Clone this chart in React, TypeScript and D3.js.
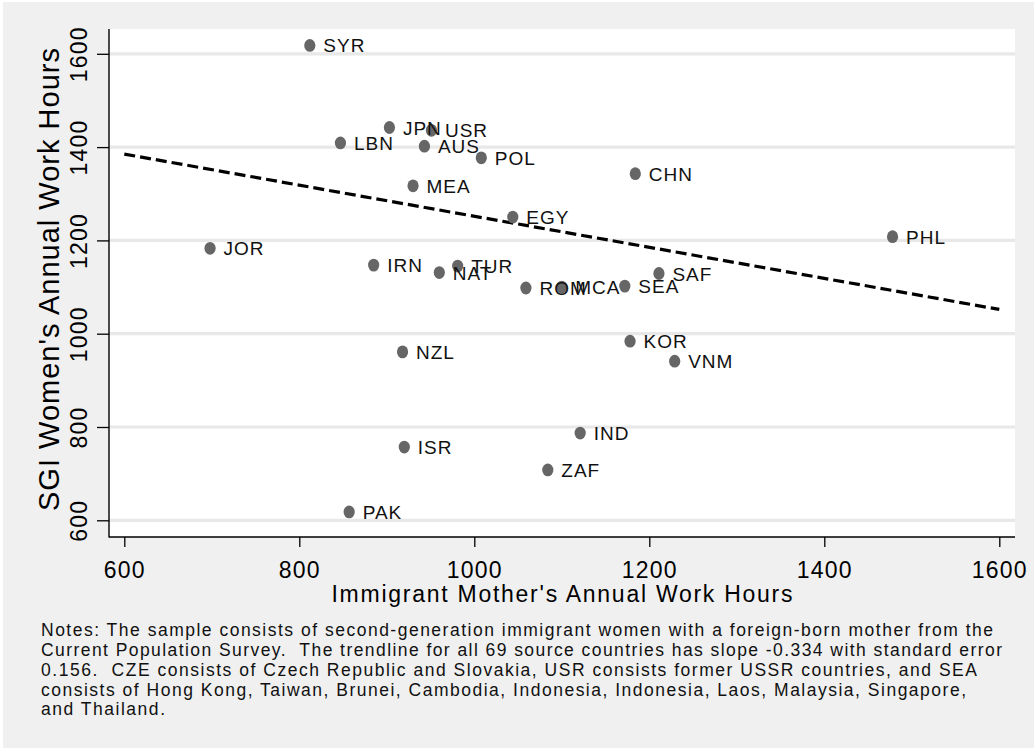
import React, { useEffect, useRef } from 'react';
import * as d3 from 'd3';

// source countries, mother's hours (x) and SGI women's hours (y)
const countries = ['SYR', 'JPN', 'USR', 'LBN', 'AUS', 'POL', 'MEA', 'CHN', 'EGY', 'PHL', 'JOR', 'IRN', 'NAT', 'TUR', 'SAF', 'ROM', 'MCA', 'SEA', 'KOR', 'VNM', 'NZL', 'IND', 'ISR', 'ZAF', 'PAK'];
const motherHours = [812, 903, 951, 847, 943, 1008, 930, 1184, 1044, 1478, 698, 885, 960, 981, 1211, 1059, 1100, 1172, 1178, 1229, 918, 1121, 920, 1084, 857];
const womenHours = [1618, 1442, 1436, 1409, 1402, 1377, 1317, 1343, 1250, 1208, 1183, 1147, 1131, 1145, 1129, 1098, 1100, 1102, 984, 941, 961, 787, 757, 708, 618];

// fitted line end points
const trendX = [600, 1600];
const trendY = [1385, 1052];

const xTicks = [600, 800, 1000, 1200, 1400, 1600];
const yTicks = [600, 800, 1000, 1200, 1400, 1600];

const xTitle = "Immigrant Mother's Annual Work Hours";
const yTitle = "SGI Women's Annual Work Hours";

const notesLines = [
  'Notes: The sample consists of second-generation immigrant women with a foreign-born mother from the',
  'Current Population Survey.  The trendline for all 69 source countries has slope -0.334 with standard error',
  '0.156.  CZE consists of Czech Republic and Slovakia, USR consists former USSR countries, and SEA',
  'consists of Hong Kong, Taiwan, Brunei, Cambodia, Indonesia, Indonesia, Laos, Malaysia, Singapore,',
  'and Thailand.',
];
const notesWidths = [952, 961, 936, 925, 124];

const FONT = '"Liberation Sans", Arial, Helvetica, sans-serif';

const App = () => {
  const svgRef = useRef<SVGSVGElement>(null);

  useEffect(() => {
    const width = 1034;
    const height = 748;
    const plot = { left: 109, right: 1015, top: 29, bottom: 537 };

    const svg = d3.select(svgRef.current).attr('width', width).attr('height', height);
    svg.selectAll('*').remove();

    // background
    svg.append('rect').attr('x', 3).attr('y', 2).attr('width', width - 3).attr('height', height - 2).attr('fill', '#f0f0f0');
    svg
      .append('rect')
      .attr('x', plot.left)
      .attr('y', plot.top)
      .attr('width', plot.right - plot.left)
      .attr('height', plot.bottom - plot.top)
      .attr('fill', '#ffffff');

    const x = d3.scaleLinear().domain([600, 1600]).range([124.3, 999.3]);
    const y = d3.scaleLinear().domain([600, 1600]).range([520.3, 53.8]);

    // grid
    svg
      .append('g')
      .selectAll('line')
      .data(yTicks)
      .enter()
      .append('line')
      .attr('x1', plot.left)
      .attr('x2', plot.right)
      .attr('y1', (d) => y(d))
      .attr('y2', (d) => y(d))
      .attr('stroke', '#e8e8e8')
      .attr('stroke-width', 3.2);

    // trend line
    const trend = trendX.map((v, i) => [v, trendY[i]] as [number, number]);
    svg
      .append('path')
      .datum(trend)
      .attr('d', d3.line<[number, number]>().x((d) => x(d[0])).y((d) => y(d[1])))
      .attr('fill', 'none')
      .attr('stroke', '#000')
      .attr('stroke-width', 3.2)
      .attr('stroke-dasharray', '11 5');

    // points
    const pts = countries.map((c, i) => ({ c, mx: motherHours[i], wy: womenHours[i] }));
    const g = svg.append('g');
    g.selectAll('ellipse')
      .data(pts)
      .enter()
      .append('ellipse')
      .attr('cx', (d) => x(d.mx))
      .attr('cy', (d) => y(d.wy))
      .attr('rx', 5.6)
      .attr('ry', 6.4)
      .attr('fill', '#666666');
    g.selectAll('text')
      .data(pts)
      .enter()
      .append('text')
      .attr('x', (d) => x(d.mx) + 13.5)
      .attr('y', (d) => y(d.wy) + 7)
      .attr('font-family', FONT)
      .attr('font-size', 19)
      .attr('letter-spacing', 1)
      .attr('fill', '#111')
      .text((d) => d.c);

    // x-axis
    const xAxis = svg
      .append('g')
      .attr('transform', `translate(0, ${plot.bottom})`)
      .call(d3.axisBottom(x).tickValues(xTicks).tickSize(10).tickFormat(d3.format('d')));
    xAxis.select('.domain').remove();
    xAxis.selectAll('line').attr('stroke', '#000').attr('stroke-width', 1.3);
    xAxis
      .selectAll('text')
      .attr('y', 41)
      .attr('dy', 0)
      .attr('font-family', FONT)
      .attr('font-size', 23)
      .attr('letter-spacing', 1.2)
      .attr('fill', '#000');

    // y-axis
    const yAxis = svg
      .append('g')
      .attr('transform', `translate(${plot.left}, 0)`)
      .call(d3.axisLeft(y).tickValues(yTicks).tickSize(12).tickFormat(d3.format('d')));
    yAxis.select('.domain').remove();
    yAxis.selectAll('line').attr('stroke', '#000').attr('stroke-width', 1.3);
    yAxis
      .selectAll('text')
      .attr('transform', 'rotate(-90)')
      .attr('x', 0)
      .attr('y', -22)
      .attr('dy', 0)
      .attr('text-anchor', 'middle')
      .attr('font-family', FONT)
      .attr('font-size', 23)
      .attr('letter-spacing', 1.2)
      .attr('fill', '#000');

    // axis lines
    svg.append('line').attr('x1', plot.left).attr('x2', plot.left).attr('y1', plot.top).attr('y2', plot.bottom + 0.6).attr('stroke', '#000').attr('stroke-width', 1.4);
    svg.append('line').attr('x1', plot.left).attr('x2', plot.right).attr('y1', plot.bottom).attr('y2', plot.bottom).attr('stroke', '#000').attr('stroke-width', 1.4);

    // titles
    svg
      .append('text')
      .attr('x', (plot.left + plot.right) / 2)
      .attr('y', 602)
      .attr('text-anchor', 'middle')
      .attr('font-family', FONT)
      .attr('font-size', 23)
      .attr('textLength', 461)
      .attr('lengthAdjust', 'spacing')
      .attr('fill', '#000')
      .text(xTitle);
    svg
      .append('text')
      .attr('transform', `translate(59, 279.5) rotate(-90)`)
      .attr('text-anchor', 'middle')
      .attr('font-family', FONT)
      .attr('font-size', 29)
      .attr('textLength', 463)
      .attr('lengthAdjust', 'spacing')
      .attr('fill', '#000')
      .text(yTitle);

    // notes
    svg
      .append('g')
      .selectAll('text')
      .data(notesLines)
      .enter()
      .append('text')
      .attr('x', 41)
      .attr('y', (_, i) => [636, 656, 675.5, 695.5, 715][i])
      .attr('font-family', FONT)
      .attr('font-size', 17.5)
      .attr('textLength', (_, i) => notesWidths[i])
      .attr('lengthAdjust', 'spacing')
      .style('white-space', 'pre')
      .attr('fill', '#111')
      .text((d) => d);
  }, []);

  return (
    <div className="scatter-chart">
      <svg ref={svgRef} style={{ position: 'absolute', left: 0, top: 0 }}></svg>
    </div>
  );
};

export default App;
